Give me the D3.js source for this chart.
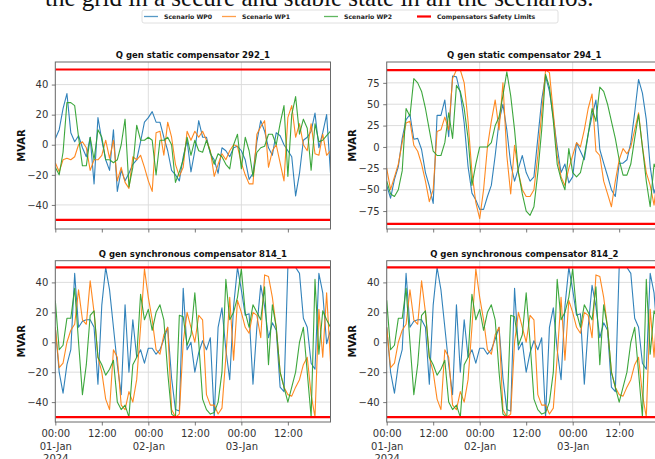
<!DOCTYPE html>
<html>
<head>
<meta charset="utf-8">
<script src="https://cdn.jsdelivr.net/npm/d3@7"></script>
<style>
  html, body { margin: 0; padding: 0; background: #fff; }
  svg { display: block; }
</style>
</head>
<body>
<div id="chart"></div>
<script>
// ---------------- DATA ----------------
const seriesNames = ["Scenario WP0", "Scenario WP1", "Scenario WP2"];
const limitName = "Compensators Safety Limits";
const panelTitles = [
  "Q gen static compensator 292_1",
  "Q gen static compensator 294_1",
  "Q gen synchronous compensator 814_1",
  "Q gen synchronous compensator 814_2"
];
const startDate = Date.UTC(2024, 0, 1, 0);   // hourly samples
const nHours = 72;

const limits292 = [-50, 50];
const limits294 = [-90, 90];
const limits814 = [-50, 50];

const yTicks292 = [-40, -20, 0, 20, 40];
const yTicks294 = [-75, -50, -25, 0, 25, 50, 75];
const yTicks814 = [-40, -20, 0, 20, 40];

const xTickLabels = ["00:00\n01-Jan\n2024", "12:00", "00:00\n02-Jan", "12:00", "00:00\n03-Jan", "12:00"];

const q292_wp0 = [4,10,24,34,8,2,6,-2,-8,5,-26,18,3,-10,-17,10,-31,-17,-24,-19,-13,-10,2,15,18,22,15,15,5,-4,-17,-20,-24,-8,3,-18,-4,16,5,5,-6,-10,-19,-2,-4,-8,-2,-1,-4,-10,-23,-19,2,16,9,-2,-7,8,6,0,-4,-8,-34,-19,3,5,9,21,-2,8,20,-19];
const q292_wp1 = [-12,-18,-10,-9,-10,-8,0,2,-2,-17,-10,-10,-7,3,-9,3,-24,-15,-25,-29,-8,-10,-7,-15,-24,-31,8,9,-7,15,5,-13,-21,-15,9,3,9,5,9,3,-4,-21,-13,-6,-10,-4,0,-1,-12,-20,-26,-26,7,12,16,-15,-4,0,-12,-24,18,26,5,14,0,-4,14,-6,-7,7,-7,-4];
const q292_wp2 = [-15,-20,-5,28,28,26,5,-14,-14,5,-10,10,5,-10,-10,-12,-10,0,17,-28,-15,13,3,3,5,3,-20,3,3,5,0,-25,-18,-10,5,-7,3,-4,-5,3,-5,-13,-6,-8,-13,-16,0,7,-16,5,-4,-21,-5,-2,-1,7,7,0,14,26,-21,20,32,7,17,11,-17,14,2,3,6,9];

const q294_wp0 = [-45,-60,-38,-23,10,32,38,9,10,-3,-30,-46,-66,37,37,55,12,83,82,63,28,-23,-54,-62,-73,-73,-58,-45,-10,30,50,20,-20,-40,-25,-10,-30,-40,-35,10,55,83,65,35,0,-30,-20,-42,-35,5,-5,-15,15,36,55,-3,-19,-34,-50,-58,-19,-19,-15,5,40,79,63,32,-23,-54,-40,-20];
const q294_wp1 = [-25,-50,-35,-20,5,28,30,2,-5,-20,-40,-64,-50,18,20,35,20,80,90,90,75,30,-30,-65,-84,-50,0,30,55,20,75,-10,-55,2,-30,-50,-58,-58,-50,-10,40,90,87,40,-10,-35,-45,-25,-10,5,0,20,45,62,-5,-10,-40,-55,-70,-40,-15,-2,-8,0,20,40,0,-30,-45,-68,-30,-20];
const q294_wp2 = [-40,-55,-58,-50,-28,45,36,80,75,65,45,20,-5,-10,-10,5,40,10,72,65,45,10,-45,-20,0,0,0,5,25,35,60,88,60,20,-30,-55,-75,-80,-70,-30,20,85,70,30,-20,-38,-50,-2,-30,-35,-30,-10,15,45,30,70,65,50,30,10,-15,-33,-33,-20,10,38,0,-40,-70,-20,-30,-25];

const q814_1_wp0 = [10,-20,-34,-15,-5,46,10,14,15,15,10,-28,25,50,35,10,-15,-35,25,-20,15,-10,-5,-14,-4,-4,-8,-5,2,10,-24,-45,-46,36,-5,0,-20,-7,1,-5,3,-50,10,23,-5,-25,24,50,35,18,19,-28,10,38,24,3,13,8,-30,-33,50,50,50,46,16,10,-14,-18,46,33,-1,8];
const q814_1_wp1 = [10,-17,-14,0,8,12,35,15,12,41,20,-10,-20,-38,-45,-5,-10,-42,-45,-33,-40,-25,10,49,30,15,-5,-8,5,10,-45,-50,-48,0,20,10,0,18,15,-35,-42,-42,-48,-44,-10,30,-12,28,20,10,6,20,18,3,45,44,30,10,-20,-30,-35,-36,-30,-25,-15,-10,-35,-50,22,-10,33,-13];
const q814_1_wp2 = [28,-5,-2,16,16,36,0,-35,-15,18,21,-10,-15,-22,-18,-12,-40,-45,-42,-50,-15,-10,32,15,22,8,20,25,15,-20,-48,-50,18,17,-2,5,33,0,-38,-45,-48,-47,-40,-20,42,15,20,30,49,20,10,25,20,15,37,-15,25,10,-20,-30,-40,-30,-20,0,10,-20,-50,42,-8,21,15,10];

const q814_2_wp0 = q814_1_wp0.slice();
const q814_2_wp1 = q814_1_wp1.slice();
const q814_2_wp2 = q814_1_wp2.slice();

// ---------------- STYLE ----------------
const colors = ["#1f77b4", "#ff7f0e", "#2ca02c"];
const limitColor = "#ff0000";
const W = 655, H = 459;
const FONT = "DejaVu Sans, Arial, sans-serif";

const panels = [
  { title: panelTitles[0], data: [q292_wp0, q292_wp1, q292_wp2], lim: limits292, ticks: yTicks292,
    box: { l: 55.3, r: 330.5, t: 62, b: 229 }, dom: [-56, 55], xlabels: false, ylabX: 21 },
  { title: panelTitles[1], data: [q294_wp0, q294_wp1, q294_wp2], lim: limits294, ticks: yTicks294,
    box: { l: 386.7, r: 661.8, t: 62, b: 229 }, dom: [-96, 99.4], xlabels: false, ylabX: 352 },
  { title: panelTitles[2], data: [q814_1_wp0, q814_1_wp1, q814_1_wp2], lim: limits814, ticks: yTicks814,
    box: { l: 55.3, r: 330.5, t: 260.7, b: 422 }, dom: [-53.3, 54.5], xlabels: true, ylabX: 21 },
  { title: panelTitles[3], data: [q814_2_wp0, q814_2_wp1, q814_2_wp2], lim: limits814, ticks: yTicks814,
    box: { l: 386.7, r: 661.8, t: 260.7, b: 422 }, dom: [-53.3, 54.5], xlabels: true, ylabX: 352 }
];

const svg = d3.select("#chart").append("svg")
  .attr("width", W).attr("height", H)
  .attr("viewBox", `0 0 ${W} ${H}`)
  .style("font-family", FONT);

svg.append("rect").attr("width", W).attr("height", H).attr("fill", "#fff");

// cropped caption text from the surrounding document
svg.append("text")
  .attr("x", 45).attr("y", 6)
  .attr("font-family", "Liberation Serif, Times New Roman, serif")
  .attr("font-size", 25)
  .attr("fill", "#111")
  .text("the grid in a secure and stable state in all the scenarios.");

// ---------------- LEGEND ----------------
const legend = svg.append("g");
legend.append("rect")
  .attr("x", 142).attr("y", 10).attr("width", 416).attr("height", 13)
  .attr("rx", 2).attr("fill", "#fff").attr("stroke", "#d8d8d8").attr("stroke-width", 0.8);
const legendItems = [
  { name: seriesNames[0], color: colors[0], x: 144, w: 1.3 },
  { name: seriesNames[1], color: colors[1], x: 222, w: 1.3 },
  { name: seriesNames[2], color: colors[2], x: 324, w: 1.3 },
  { name: limitName, color: limitColor, x: 417, w: 2.2 }
];
legendItems.forEach(it => {
  legend.append("line")
    .attr("x1", it.x).attr("x2", it.x + 14).attr("y1", 16.5).attr("y2", 16.5)
    .attr("stroke", it.color).attr("stroke-width", it.w).attr("opacity", it.color === limitColor ? 1 : 0.75);
  legend.append("text")
    .attr("x", it.x + 20).attr("y", 18.7)
    .attr("font-size", 6.2).attr("font-weight", "bold").attr("fill", "#222")
    .text(it.name);
});

// ---------------- PANELS ----------------
const t0 = new Date(startDate);
const tEnd = new Date(startDate + (nHours - 1) * 3600 * 1000);
const hours = d3.range(nHours).map(i => new Date(startDate + i * 3600 * 1000));

panels.forEach((p, pi) => {
  const b = p.box;
  const x = d3.scaleUtc().domain([t0, tEnd]).range([b.l, b.r]);
  const y = d3.scaleLinear().domain(p.dom).range([b.b, b.t]);
  const g = svg.append("g");

  const clipId = "clip" + pi;
  svg.append("clipPath").attr("id", clipId)
    .append("rect").attr("x", b.l).attr("y", b.t).attr("width", b.r - b.l).attr("height", b.b - b.t);

  const majorTicks = d3.utcDay.range(t0, new Date(tEnd.getTime() + 1));
  const minorTicks = d3.utcHour.every(12).range(t0, new Date(tEnd.getTime() + 1))
    .filter(d => d.getUTCHours() === 12);

  // grid
  const grid = g.append("g").attr("clip-path", `url(#${clipId})`);
  grid.selectAll("line.h").data(p.ticks).enter().append("line")
    .attr("x1", b.l).attr("x2", b.r).attr("y1", d => y(d)).attr("y2", d => y(d))
    .attr("stroke", "#d9d9d9").attr("stroke-width", 0.9);
  grid.selectAll("line.v").data(majorTicks).enter().append("line")
    .attr("x1", d => x(d)).attr("x2", d => x(d)).attr("y1", b.t).attr("y2", b.b)
    .attr("stroke", "#d9d9d9").attr("stroke-width", 0.9);

  // data lines
  const line = d3.line().x((d, i) => x(hours[i])).y(d => y(d));
  const lines = g.append("g").attr("clip-path", `url(#${clipId})`);
  p.data.forEach((arr, si) => {
    lines.append("path").datum(arr)
      .attr("d", line)
      .attr("fill", "none").attr("stroke", colors[si])
      .attr("stroke-width", 1.1).attr("stroke-linejoin", "round").attr("opacity", 0.92);
  });
  // safety limits
  p.lim.forEach(v => {
    lines.append("line")
      .attr("x1", b.l).attr("x2", b.r).attr("y1", y(v)).attr("y2", y(v))
      .attr("stroke", limitColor).attr("stroke-width", 2.2);
  });

  // frame
  g.append("rect").attr("x", b.l).attr("y", b.t).attr("width", b.r - b.l).attr("height", b.b - b.t)
    .attr("fill", "none").attr("stroke", "#6a6a6a").attr("stroke-width", 1);

  // y axis
  const yAxis = d3.axisLeft(y).tickValues(p.ticks).tickSize(3.5).tickPadding(3.5)
    .tickFormat(d => d < 0 ? "\u2212" + Math.abs(d) : String(d));
  const ya = g.append("g").attr("transform", `translate(${b.l},0)`).call(yAxis);
  ya.select(".domain").remove();
  ya.selectAll(".tick line").attr("stroke", "#555").attr("stroke-width", 0.8);
  ya.selectAll(".tick text").attr("font-size", 10).attr("fill", "#333").attr("font-family", FONT);

  // x axis (major + minor ticks)
  const allTicks = majorTicks.concat(minorTicks).sort((a, b2) => a - b2);
  const xAxis = d3.axisBottom(x).tickValues(allTicks).tickSize(3.5).tickPadding(3)
    .tickFormat(p.xlabels ? ((d, i) => xTickLabels[i]) : () => "");
  const xa = g.append("g").attr("transform", `translate(0,${b.b})`).call(xAxis);
  xa.select(".domain").remove();
  xa.selectAll(".tick line").attr("stroke", "#555").attr("stroke-width", 0.8);
  if (p.xlabels) {
    xa.selectAll(".tick text").each(function(d, i) {
      const t = d3.select(this);
      const parts = xTickLabels[i].split("\n");
      t.text(null).attr("font-size", 10).attr("fill", "#333").attr("font-family", FONT).attr("dy", null).attr("y", 0);
      parts.forEach((s, k) => {
        t.append("tspan").attr("x", 0).attr("y", 15 + k * 12.5).text(s);
      });
    });
  }

  // title
  g.append("text")
    .attr("x", (b.l + b.r) / 2).attr("y", b.t - 4)
    .attr("text-anchor", "middle").attr("font-size", 8.5).attr("font-weight", "bold").attr("fill", "#111")
    .text(p.title);

  // y label
  g.append("text")
    .attr("transform", `translate(${p.ylabX + 3.5},${(b.t + b.b) / 2}) rotate(-90)`)
    .attr("text-anchor", "middle").attr("font-size", 10).attr("font-weight", "bold").attr("fill", "#111")
    .text("MVAR");
});
</script>
</body>
</html>
